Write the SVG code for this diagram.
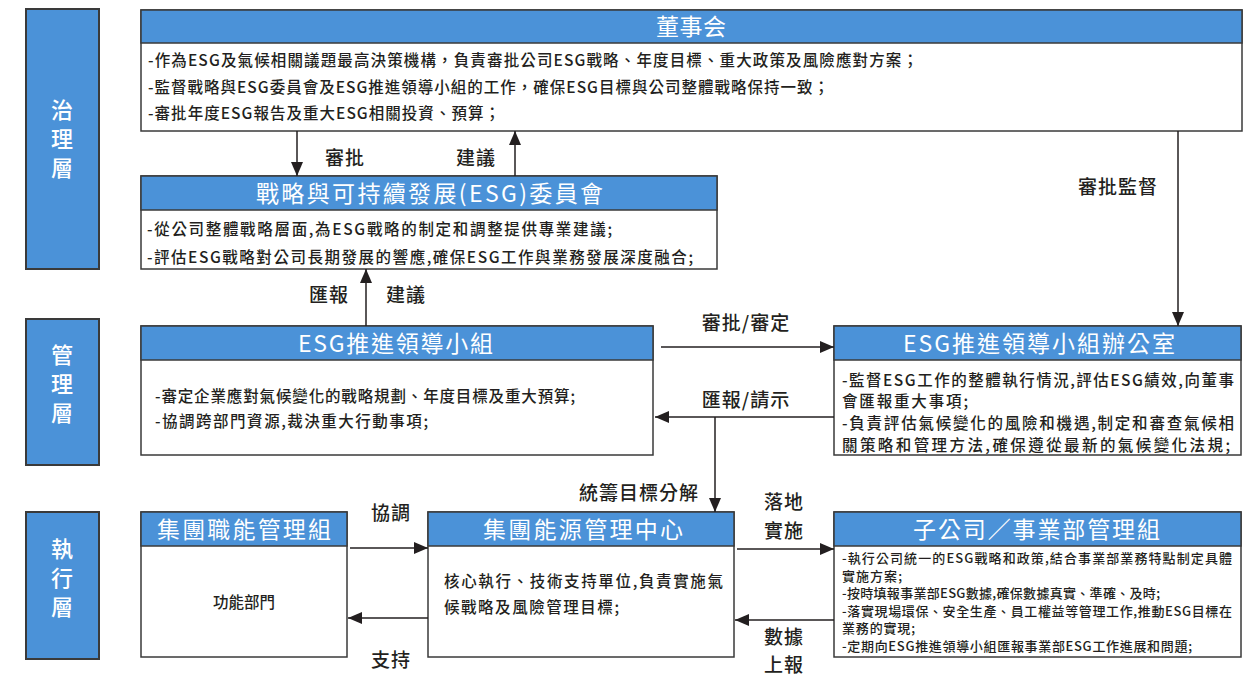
<svg xmlns="http://www.w3.org/2000/svg" width="1255" height="678" viewBox="0 0 1255 678">
<style>
  text { font-family: "Noto Sans CJK TC", "Noto Sans CJK SC", "Noto Sans", sans-serif; }
  .side { fill: #4b92d8; stroke: #3a3a3a; stroke-width: 2; }
  .sidet { fill: #ffffff; font-size: 22px; font-weight: 500; text-anchor: middle; }
  .box { fill: #ffffff; stroke: #3a3a3a; stroke-width: 1.5; }
  .hdr { fill: #4b92d8; stroke: #3a3a3a; stroke-width: 1.5; }
  .title { fill: #ffffff; font-size: 23px; font-weight: 400; }
  .body { fill: #231f20; font-size: 15.5px; font-weight: 500; }
  .small { fill: #231f20; font-size: 13px; font-weight: 500; }
  .lbl { fill: #231f20; font-size: 19px; font-weight: 500; text-anchor: middle; letter-spacing: 1px; }
  .conn { stroke: #231f20; stroke-width: 1.5; fill: none; marker-end: url(#ah); }
</style>
<defs>
  <marker id="ah" markerUnits="userSpaceOnUse" markerWidth="14" markerHeight="14" viewBox="0 0 14 12" refX="14" refY="6" orient="auto">
    <path d="M0,0 L14,6 L0,12 z" fill="#231f20"/>
  </marker>
</defs>
<rect width="1255" height="678" fill="#ffffff"/>

<g id="layer-governance">
  <rect class="side" x="26" y="9" width="73" height="260"/>
  <text class="sidet" x="62" y="118">治</text>
  <text class="sidet" x="62" y="147">理</text>
  <text class="sidet" x="62" y="176">層</text>
</g>
<g id="layer-management">
  <rect class="side" x="26" y="319" width="73" height="146"/>
  <text class="sidet" x="62" y="363">管</text>
  <text class="sidet" x="62" y="392">理</text>
  <text class="sidet" x="62" y="421">層</text>
</g>
<g id="layer-execution">
  <rect class="side" x="26" y="512" width="73" height="147"/>
  <text class="sidet" x="62" y="557">執</text>
  <text class="sidet" x="62" y="586">行</text>
  <text class="sidet" x="62" y="615">層</text>
</g>

<g id="board">
  <rect class="box" x="141" y="10" width="1101" height="121"/>
  <rect class="hdr" x="141" y="10" width="1101" height="33"/>
  <text class="title" x="656" y="35" textLength="70" lengthAdjust="spacing">董事会</text>
  <text class="body" x="148" y="65.5" textLength="770" lengthAdjust="spacing">-作為ESG及氣候相關議題最高決策機構，負責審批公司ESG戰略、年度目標、重大政策及風險應對方案；</text>
  <text class="body" x="148" y="92.5" textLength="681" lengthAdjust="spacing">-監督戰略與ESG委員會及ESG推進領導小組的工作，確保ESG目標與公司整體戰略保持一致；</text>
  <text class="body" x="148" y="118.5" textLength="352" lengthAdjust="spacing">-審批年度ESG報告及重大ESG相關投資、預算；</text>
</g>

<g id="committee">
  <rect class="box" x="141" y="176" width="576" height="93"/>
  <rect class="hdr" x="141" y="176" width="576" height="34"/>
  <text class="title" x="256" y="201.5" textLength="347" lengthAdjust="spacing">戰略與可持續發展(ESG)委員會</text>
  <text class="body" x="147" y="234.5" textLength="465" lengthAdjust="spacing">-從公司整體戰略層面,為ESG戰略的制定和調整提供專業建議;</text>
  <text class="body" x="147" y="262.5" textLength="546" lengthAdjust="spacing">-評估ESG戰略對公司長期發展的響應,確保ESG工作與業務發展深度融合;</text>
</g>

<g id="esg-group">
  <rect class="box" x="141" y="326" width="512" height="129"/>
  <rect class="hdr" x="141" y="326" width="512" height="34"/>
  <text class="title" x="298" y="351.5" textLength="195" lengthAdjust="spacing">ESG推進領導小組</text>
  <text class="body" x="155" y="401.5" textLength="420" lengthAdjust="spacing">-審定企業應對氣候變化的戰略規劃、年度目標及重大預算;</text>
  <text class="body" x="155" y="426.5" textLength="273" lengthAdjust="spacing">-協調跨部門資源,裁決重大行動事項;</text>
</g>

<g id="esg-office">
  <rect class="box" x="834" y="326" width="407" height="129"/>
  <rect class="hdr" x="834" y="326" width="407" height="34"/>
  <text class="title" x="903" y="351.5" textLength="272" lengthAdjust="spacing">ESG推進領導小組辦公室</text>
  <text class="body" x="842" y="385.5" textLength="392" lengthAdjust="spacing">-監督ESG工作的整體執行情況,評估ESG績效,向董事</text>
  <text class="body" x="842" y="406.5" textLength="126" lengthAdjust="spacing">會匯報重大事項;</text>
  <text class="body" x="842" y="428.5" textLength="392" lengthAdjust="spacing">-負責評估氣候變化的風險和機遇,制定和審查氣候相</text>
  <text class="body" x="842" y="451" textLength="388" lengthAdjust="spacing">關策略和管理方法,確保遵從最新的氣候變化法規;</text>
</g>

<g id="functional-group">
  <rect class="box" x="141" y="512" width="206" height="145"/>
  <rect class="hdr" x="141" y="512" width="206" height="34"/>
  <text class="title" x="157" y="537.5" textLength="174" lengthAdjust="spacing">集團職能管理組</text>
  <text class="body" x="244" y="608" font-size="14.5" text-anchor="middle">功能部門</text>
</g>

<g id="energy-center">
  <rect class="box" x="428" y="512" width="306" height="145"/>
  <rect class="hdr" x="428" y="512" width="306" height="34"/>
  <text class="title" x="483" y="537.5" textLength="200" lengthAdjust="spacing">集團能源管理中心</text>
  <text class="body" x="444" y="586.5" textLength="279" lengthAdjust="spacing">核心執行、技術支持單位,負責實施氣</text>
  <text class="body" x="444" y="612.5" textLength="175" lengthAdjust="spacing">候戰略及風險管理目標;</text>
</g>

<g id="subsidiary">
  <rect class="box" x="834" y="512" width="407" height="145"/>
  <rect class="hdr" x="834" y="512" width="407" height="34"/>
  <text class="title" x="913" y="537.5" textLength="247" lengthAdjust="spacing">子公司／事業部管理組</text>
  <text class="small" x="842" y="563" textLength="390" lengthAdjust="spacing">-執行公司統一的ESG戰略和政策,結合事業部業務特點制定具體</text>
  <text class="small" x="842" y="580.5" textLength="60" lengthAdjust="spacing">實施方案;</text>
  <text class="small" x="842" y="598" textLength="318" lengthAdjust="spacing">-按時填報事業部ESG數據,確保數據真實、準確、及時;</text>
  <text class="small" x="842" y="615.5" textLength="390" lengthAdjust="spacing">-落實現場環保、安全生產、員工權益等管理工作,推動ESG目標在</text>
  <text class="small" x="842" y="633" textLength="73" lengthAdjust="spacing">業務的實現;</text>
  <text class="small" x="842" y="650.5" textLength="350" lengthAdjust="spacing">-定期向ESG推進領導小組匯報事業部ESG工作進展和問題;</text>
</g>

<g id="connectors">
  <path class="conn" d="M297,131 V176"/>
  <path class="conn" d="M515,176 V131"/>
  <path class="conn" d="M366,326 V269"/>
  <path class="conn" d="M1178,131 V326"/>
  <path class="conn" d="M661,347 H834"/>
  <path class="conn" d="M834,417 H655"/>
  <path class="conn" d="M715,417 V512"/>
  <path class="conn" d="M350,548 H428"/>
  <path class="conn" d="M428,618 H348"/>
  <path class="conn" d="M737,549 H834"/>
  <path class="conn" d="M834,620 H735"/>
</g>

<g id="connector-labels">
  <text class="lbl" x="345" y="165">審批</text>
  <text class="lbl" x="476" y="165">建議</text>
  <text class="lbl" x="329" y="302">匯報</text>
  <text class="lbl" x="406" y="302">建議</text>
  <text class="lbl" x="1118" y="194">審批監督</text>
  <text class="lbl" x="746" y="330">審批/審定</text>
  <text class="lbl" x="746" y="407">匯報/請示</text>
  <text class="lbl" x="699" y="500" style="text-anchor:end">統籌目標分解</text>
  <text class="lbl" x="391" y="520">協調</text>
  <text class="lbl" x="391" y="667">支持</text>
  <text class="lbl" x="784" y="509">落地</text>
  <text class="lbl" x="784" y="538">實施</text>
  <text class="lbl" x="784" y="644">數據</text>
  <text class="lbl" x="784" y="672">上報</text>
</g>
</svg>
